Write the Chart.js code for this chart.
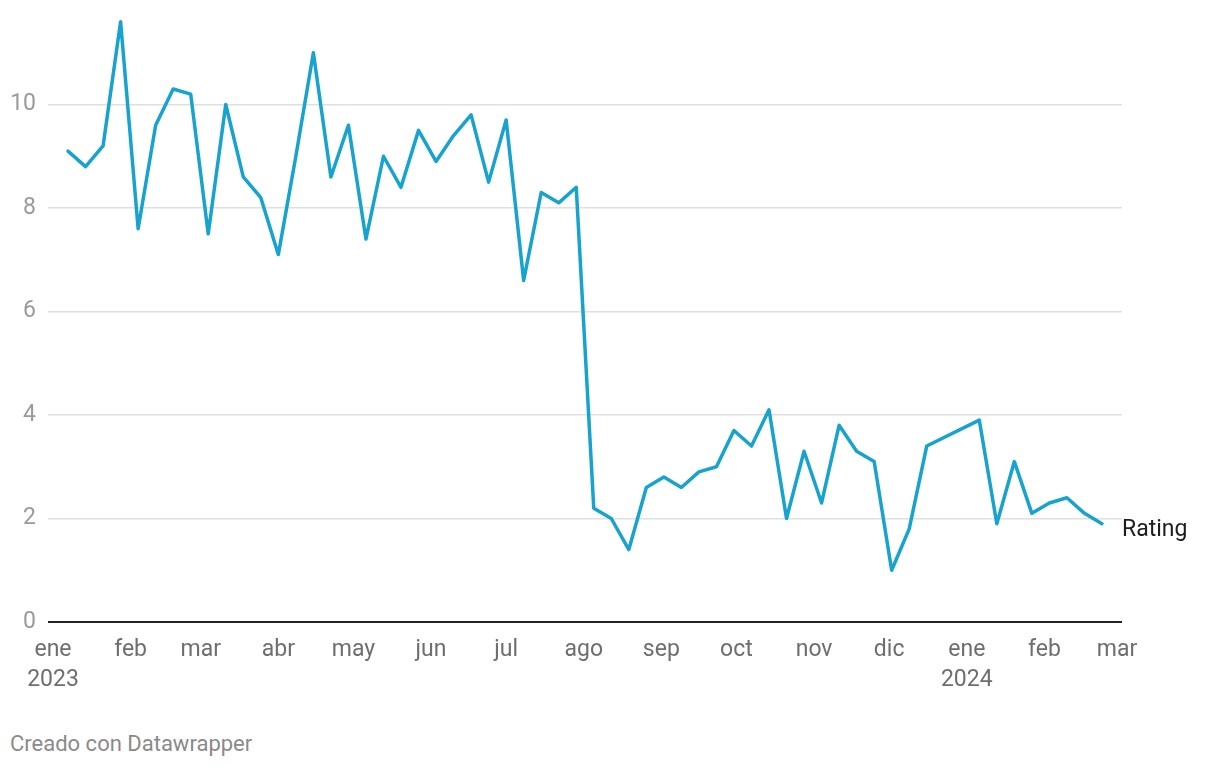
<!DOCTYPE html>
<html lang="es">
<head>
<meta charset="utf-8">
<title>Rating</title>
<script src="https://cdn.jsdelivr.net/npm/chart.js@4.4.1/dist/chart.umd.min.js"></script>
<style>
  body { margin: 0; background: #fff; font-family: Roboto, sans-serif; }
  .wrap { position: relative; width: 1220px; height: 700px; }
  .footer { position: absolute; left: 10px; top: 731px; font-size: 22px; color: #8a8a8a; }
</style>
</head>
<body>
<div class="wrap"><canvas id="chart"></canvas></div>
<div class="footer">Creado con Datawrapper</div>
<script>
// weekly dates
const weeks = [
  '2023-01-07', '2023-01-14', '2023-01-21', '2023-01-28',
  '2023-02-04', '2023-02-11', '2023-02-18', '2023-02-25',
  '2023-03-04', '2023-03-11', '2023-03-18', '2023-03-25',
  '2023-04-01', '2023-04-08', '2023-04-15', '2023-04-22', '2023-04-29',
  '2023-05-06', '2023-05-13', '2023-05-20', '2023-05-27',
  '2023-06-03', '2023-06-10', '2023-06-17', '2023-06-24',
  '2023-07-01', '2023-07-08', '2023-07-15', '2023-07-22', '2023-07-29',
  '2023-08-05', '2023-08-12', '2023-08-19', '2023-08-26',
  '2023-09-02', '2023-09-09', '2023-09-16', '2023-09-23', '2023-09-30',
  '2023-10-07', '2023-10-14', '2023-10-21', '2023-10-28',
  '2023-11-04', '2023-11-11', '2023-11-18', '2023-11-25',
  '2023-12-02', '2023-12-09', '2023-12-16', '2023-12-23', '2023-12-30',
  '2024-01-06', '2024-01-13', '2024-01-20', '2024-01-27',
  '2024-02-03', '2024-02-10', '2024-02-17', '2024-02-24'
];

const rating = [
  9.1, 8.8, 9.2, 11.6,
  7.6, 9.6, 10.3, 10.2,
  7.5, 10.0, 8.6, 8.2,
  7.1, 9.0, 11.0, 8.6, 9.6,
  7.4, 9.0, 8.4, 9.5,
  8.9, 9.4, 9.8, 8.5,
  9.7, 6.6, 8.3, 8.1, 8.4,
  2.2, 2.0, 1.4, 2.6,
  2.8, 2.6, 2.9, 3.0, 3.7,
  3.4, 4.1, 2.0, 3.3,
  2.3, 3.8, 3.3, 3.1,
  1.0, 1.8, 3.4, null, null,
  3.9, 1.9, 3.1, 2.1,
  2.3, 2.4, 2.1, 1.9
];

// x ticks (month starts) and labels
const monthStarts = [
  '2023-01-01', '2023-02-01', '2023-03-01', '2023-04-01', '2023-05-01',
  '2023-06-01', '2023-07-01', '2023-08-01', '2023-09-01', '2023-10-01',
  '2023-11-01', '2023-12-01', '2024-01-01', '2024-02-01', '2024-03-01'
];
const monthLabels = [
  ['ene', '2023'], 'feb', 'mar', 'abr', 'may', 'jun', 'jul', 'ago',
  'sep', 'oct', 'nov', 'dic', ['ene', '2024'], 'feb', 'mar'
];
const yTicks = [0, 2, 4, 6, 8, 10];

const seriesName = 'Rating';

// days since 2023-01-01
const origin = Date.UTC(2023, 0, 1);
function dayNum(s) {
  const p = s.split('-').map(Number);
  return (Date.UTC(p[0], p[1] - 1, p[2]) - origin) / 86400000;
}

const points = weeks.map(function (w, i) {
  return { x: dayNum(w), y: rating[i] };
});
const monthDays = monthStarts.map(dayNum);

const lineColor = '#18a3cf';
const font = 'Roboto';

const endLabel = {
  id: 'endLabel',
  afterDatasetsDraw(chart) {
    const meta = chart.getDatasetMeta(0);
    const last = meta.data[meta.data.length - 1];
    const ctx = chart.ctx;
    ctx.save();
    ctx.font = '23px ' + font;
    ctx.fillStyle = '#1d1d1d';
    ctx.textAlign = 'left';
    ctx.textBaseline = 'middle';
    ctx.fillText(seriesName, last.x + 20, last.y + 7);
    ctx.restore();
  }
};

const ctx = document.getElementById('chart').getContext('2d');
const chart = new Chart(ctx, {
  type: 'line',
  data: {
    datasets: [{
      label: seriesName,
      data: points,
      borderColor: lineColor,
      borderWidth: 3.5,
      borderJoinStyle: 'round',
      borderCapStyle: 'round',
      pointRadius: 0,
      tension: 0,
      spanGaps: true,
      clip: false
    }]
  },
  options: {
    responsive: true,
    maintainAspectRatio: false,
    animation: false,
    layout: { padding: { top: 1, right: 98, left: 0, bottom: 0 } },
    plugins: {
      legend: { display: false },
      tooltip: { enabled: false }
    },
    scales: {
      x: {
        type: 'linear',
        min: -2,
        max: 427,
        afterBuildTicks: function (axis) {
          axis.ticks = monthDays.map(function (v) { return { value: v }; });
        },
        afterFit: function (scale) {
          scale.height = 78;
          scale.paddingLeft = 0;
          scale.paddingRight = 0;
        },
        grid: { display: false, drawTicks: false },
        border: { display: false },
        ticks: {
          autoSkip: false,
          maxRotation: 0,
          padding: 13,
          color: '#6e6e6e',
          font: { family: font, size: 23, lineHeight: 1.3 },
          callback: function (value, index) { return monthLabels[index]; }
        }
      },
      y: {
        min: 0,
        max: 12,
        afterBuildTicks: function (axis) {
          axis.ticks = yTicks.map(function (v) { return { value: v }; });
        },
        afterFit: function (scale) {
          scale.width = 48;
          scale.paddingTop = 0;
          scale.paddingBottom = 0;
        },
        border: { display: false },
        grid: {
          drawTicks: false,
          color: function (c) { return c.tick && c.tick.value === 0 ? '#222222' : '#e0e0e0'; },
          lineWidth: function (c) { return c.tick && c.tick.value === 0 ? 2 : 1.5; }
        },
        ticks: {
          padding: 12,
          color: '#9a9a9a',
          font: { family: font, size: 23 }
        }
      }
    }
  },
  plugins: [endLabel]
});
</script>
</body>
</html>
